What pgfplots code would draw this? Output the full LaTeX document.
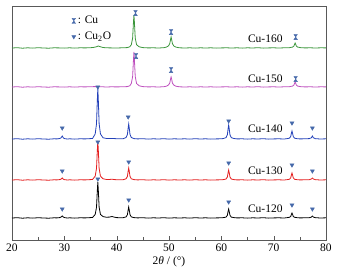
\documentclass[border=0pt]{standalone}
\usepackage{pgfplots}
\pgfplotsset{compat=1.18}
\usepackage{fontspec}
\setmainfont{Liberation Serif}
\definecolor{cgreen}{RGB}{60,150,60}
\definecolor{cmag}{RGB}{190,80,190}
\definecolor{cblue}{RGB}{35,65,185}
\definecolor{cred}{RGB}{228,30,30}
\definecolor{cmark}{RGB}{70,105,170}
\pgfdeclareplotmark{hourglass}{%
  \pgfpathmoveto{\pgfqpoint{-0.7\pgfplotmarksize}{\pgfplotmarksize}}%
  \pgfpathlineto{\pgfqpoint{0.7\pgfplotmarksize}{\pgfplotmarksize}}%
  \pgfpathlineto{\pgfqpoint{-0.7\pgfplotmarksize}{-\pgfplotmarksize}}%
  \pgfpathlineto{\pgfqpoint{0.7\pgfplotmarksize}{-\pgfplotmarksize}}%
  \pgfpathclose
  \pgfusepathqfillstroke
}
\begin{document}
\fontsize{11.5}{13.5}\selectfont
\begin{tikzpicture}
\begin{axis}[
  scale only axis, width=314pt, height=234pt,
  xmin=20, xmax=80, ymin=0, ymax=234,
  xtick={20,30,...,80}, minor x tick num=1,
  ytick=\empty,
  tick pos=bottom, tick align=inside,
  major tick length=4pt, minor tick length=3pt,
  axis line style={black!65}, tick style={black!65},
  /pgf/number format/assume math mode=true,
  xlabel={2\textit{θ} / (°)},
  xlabel style={yshift=3pt},
  legend style={draw=none, fill=none, at={(axis cs:31.2,227)}, anchor=north west,
    legend cell align=left, row sep=2.5pt, inner sep=1pt},
  legend image code/.code={\draw[#1] plot coordinates {(0.1cm,0cm)};},
]
\addlegendimage{only marks, mark=hourglass, mark size=2.6pt, draw=cmark, fill=cmark, line width=0.3pt}
\addlegendentry{: Cu}
\addlegendimage{only marks, mark=triangle*, mark size=2.3pt, mark options={rotate=180, draw=cmark, fill=cmark}}
\addlegendentry{: Cu\textsubscript{2}O}

% Cu-120 (black)
\addplot[black, line width=0.8pt, forget plot] coordinates {
(20,22.0)(21,22.3)(22,21.8)(23,22.2)(24,21.9)(25,22.3)(26,22.0)(27,21.8)(28,22.2)(28.6,22.1)
(29.1,22.4)(29.35,22.9)(29.5,23.6)(29.6,24.0)(29.7,23.5)(29.85,22.8)(30.1,22.3)(30.6,22.0)
(31,22.2)(32,21.9)(33,22.2)(34,22.1)(35,22.4)(35.4,22.6)(35.9,25.6)(36.15,32.8)(36.3,49)(36.4,58)
(36.5,49)(36.65,32.8)(36.9,25.6)(37.4,23.4)(38,22.8)(38.6,22.9)(39.1,23.5)(39.6,22.8)(40,22.4)
(41,22.2)(41.3,22.4)(41.8,23.1)(42.05,25.3)(42.2,30.2)(42.3,33)(42.4,30.2)(42.55,25.3)(42.8,23.1)
(43.3,22.4)(44,22.1)(45,22.3)(46,21.9)(47,22.2)(48,22.0)(49,22.3)(50,21.9)(51,22.2)(52,22.0)
(53,22.2)(54,21.9)(55,22.3)(56,22.0)(57,22.2)(58,21.9)(59,22.1)(60,22.2)(60.4,22.4)(60.9,22.9)
(61.15,24.7)(61.3,28.8)(61.4,31)(61.5,28.8)(61.65,24.7)(61.9,22.9)(62.4,22.4)(63,22.1)(64,22.2)
(65,21.9)(66,22.2)(67,22.0)(68,22.3)(69,21.9)(70,22.1)(71,22.2)(72,22.0)(72.5,22.3)(73.0,22.7)
(73.25,23.5)(73.4,25.8)(73.5,27)(73.6,25.8)(73.75,23.5)(74.0,22.7)(74.5,22.3)(75,22.1)(76,22.2)
(76.8,22.3)(77.2,22.9)(77.4,24)(77.6,22.9)(78,22.3)(79,22.0)(80,22.2)
};
% Cu-130 (red)
\addplot[cred, line width=0.8pt, forget plot] coordinates {
(20,60.0)(21,60.3)(22,59.8)(23,60.2)(24,59.9)(25,60.3)(26,60.0)(27,59.8)(28,60.2)(28.6,60.1)
(29.1,60.4)(29.35,60.8)(29.5,61.5)(29.6,62.0)(29.7,61.4)(29.85,60.7)(30.1,60.3)(30.6,60.0)
(31,60.2)(32,59.9)(33,60.2)(34,60.1)(35,60.4)(35.4,60.6)(35.9,63.9)(36.15,71.7)(36.3,89.2)(36.4,99)
(36.5,89.2)(36.65,71.7)(36.9,63.9)(37.4,61.2)(38,60.6)(38.6,60.5)(39.1,60.8)(39.6,60.4)(40,60.3)
(41,60.2)(41.3,60.4)(41.8,61.2)(42.05,63.6)(42.2,69)(42.3,72)(42.4,69)(42.55,63.6)(42.8,61.2)
(43.3,60.4)(44,60.1)(45,60.3)(46,59.9)(47,60.2)(48,60.0)(49,60.3)(50,59.9)(51,60.2)(52,60.0)
(53,60.2)(54,59.9)(55,60.3)(56,60.0)(57,60.2)(58,59.9)(59,60.1)(60,60.2)(60.4,60.4)(60.9,61.0)
(61.15,63)(61.3,67.5)(61.4,70)(61.5,67.5)(61.65,63)(61.9,61.0)(62.4,60.4)(63,60.1)(64,60.2)
(65,59.9)(66,60.2)(67,60.0)(68,60.3)(69,59.9)(70,60.1)(71,60.2)(72,60.0)(72.5,60.3)(73.0,60.7)
(73.25,62.1)(73.4,65.2)(73.5,67)(73.6,65.2)(73.75,62.1)(74.0,60.7)(74.5,60.3)(75,60.1)(76,60.2)
(76.8,60.3)(77.2,61.0)(77.4,62)(77.6,61.0)(78,60.3)(79,60.0)(80,60.2)
};
% Cu-140 (blue)
\addplot[cblue, line width=0.8pt, forget plot] coordinates {
(20,101.0)(21,101.3)(22,100.8)(23,101.2)(24,100.9)(25,101.3)(26,101.0)(27,100.8)(28,101.2)(28.6,101.1)
(29.1,101.5)(29.35,102.0)(29.5,103.2)(29.6,104.0)(29.7,103.1)(29.85,101.9)(30.1,101.3)(30.6,101.0)
(31,101.2)(32,100.9)(33,101.2)(34,101.1)(35,101.4)(35.4,101.6)(35.9,106.1)(36.15,116.3)(36.3,139.2)(36.4,152)
(36.5,139.2)(36.65,116.3)(36.9,106.1)(37.4,102.2)(38,101.6)(38.6,101.5)(39.1,101.6)(39.6,101.4)(40,101.3)
(41,101.2)(41.3,101.4)(41.8,102.5)(42.05,105.5)(42.2,112.2)(42.3,116)(42.4,112.2)(42.55,105.5)(42.8,102.5)
(43.3,101.4)(44,101.1)(45,101.3)(46,100.9)(47,101.2)(48,101.0)(49,101.3)(50,100.9)(51,101.2)(52,101.0)
(53,101.2)(54,100.9)(55,101.3)(56,101.0)(57,101.2)(58,100.9)(59,101.1)(60,101.2)(60.4,101.5)(60.9,102.4)
(61.15,105.2)(61.3,111.5)(61.4,115)(61.5,111.5)(61.65,105.2)(61.9,102.4)(62.4,101.5)(63,101.1)(64,101.2)
(65,100.9)(66,101.2)(67,101.0)(68,101.3)(69,100.9)(70,101.1)(71,101.2)(72,101.0)(72.5,101.3)(73.0,101.8)
(73.25,103.4)(73.4,107)(73.5,109)(73.6,107)(73.75,103.4)(74.0,101.8)(74.5,101.3)(75,101.1)(76,101.2)
(76.8,101.4)(77.2,102.2)(77.4,104)(77.6,102.2)(78,101.3)(79,101.0)(80,101.2)
};
% Cu-150 (magenta)
\addplot[cmag, line width=0.8pt, forget plot] coordinates {
(20,153.0)(21,153.3)(22,152.8)(23,153.2)(24,152.9)(25,153.3)(26,153.0)(27,152.8)(28,153.2)(29,153.1)
(30,152.9)(31,153.2)(32,152.9)(33,153.2)(34,153.1)(35,153.3)(36,153.4)(37,153.3)(38,153.0)(39,153.2)
(40,153.1)(41,153.2)(42,153.4)(42.5,154.2)(42.8,156.5)(43.05,163.5)(43.2,179.2)(43.3,188)(43.4,179.2)
(43.55,163.5)(43.8,156.5)(44.3,154.2)(45,153.4)(46,153.1)(47,153.2)(48,153.0)(49,153.3)(49.5,153.8)
(49.9,155.0)(50.15,157.0)(50.3,161)(50.4,163)(50.5,161)(50.65,157.0)(50.9,155.0)(51.3,153.8)(52,153.2)
(53,153.0)(54,153.2)(55,152.9)(56,153.2)(57,153.0)(58,153.2)(59,152.9)(60,153.1)(61,153.2)(62,153.0)
(63,153.2)(64,152.9)(65,153.2)(66,153.0)(67,153.3)(68,152.9)(69,153.1)(70,153.2)(71,153.0)(72,153.2)
(73,153.3)(73.6,153.9)(73.85,154.8)(74.0,156.8)(74.1,158)(74.2,156.8)(74.35,154.8)(74.6,153.9)(75.2,153.3)
(76,153.1)(77,153.2)(78,153.0)(79,153.2)(80,153.1)
};
% Cu-160 (green)
\addplot[cgreen, line width=0.8pt, forget plot] coordinates {
(20,192.0)(21,192.3)(22,191.8)(23,192.2)(24,191.9)(25,192.3)(26,192.0)(27,191.8)(28,192.2)(29,192.1)
(30,191.9)(31,192.2)(32,191.9)(33,192.2)(34,192.1)(35,192.3)(35.6,192.6)(36.1,193.2)(36.5,194.0)(36.9,193.2)
(37.4,192.5)(38,192.2)(39,192.1)(40,192.0)(41,192.2)(42,192.4)(42.5,193.2)(42.8,195.3)(43.05,201.9)(43.2,216.8)
(43.3,225)(43.4,216.8)(43.55,201.9)(43.8,195.3)(44.3,193.2)(45,192.4)(46,192.1)(47,192.2)(48,192.0)(49,192.3)
(49.5,192.9)(49.9,194.1)(50.15,196.5)(50.3,200.6)(50.4,203)(50.5,200.6)(50.65,196.5)(50.9,194.1)(51.3,192.9)
(52,192.2)(53,192.0)(54,192.2)(55,191.9)(56,192.2)(57,192.0)(58,192.2)(59,191.9)(60,192.1)(61,192.2)(62,192.0)
(63,192.2)(64,191.9)(65,192.2)(66,192.0)(67,192.3)(68,191.9)(69,192.1)(70,192.2)(71,192.0)(72,192.2)
(73,192.3)(73.6,192.9)(73.85,193.8)(74.0,195.8)(74.1,197)(74.2,195.8)(74.35,193.8)(74.6,192.9)(75.2,192.3)
(76,192.1)(77,192.2)(78,192.0)(79,192.2)(80,192.1)
};
% Cu markers
\addplot[only marks, mark=hourglass, mark size=2.6pt, draw=cmark, fill=cmark, line width=0.3pt, forget plot] coordinates {
(43.6,227)(50.4,208)(74.2,203)(43.7,184)(50.4,170)(74.2,161)
};
% Cu2O markers
\addplot[only marks, mark=triangle*, mark size=2.3pt, mark options={rotate=180, draw=cmark, fill=cmark}, forget plot] coordinates {
(29.6,112)(36.4,153)(42.2,123)(61.4,119)(73.5,117)(77.4,112)
(29.6,69)(36.4,98)(42.3,78)(61.4,77)(73.5,75)(77.4,69)
(29.6,31)(36.4,61)(42.3,40)(61.4,38)(73.5,35)(77.4,31)
};
\node at (axis cs:68.4,201) {Cu-160};
\node at (axis cs:68.4,161) {Cu-150};
\node at (axis cs:68.4,111) {Cu-140};
\node at (axis cs:68.4,69) {Cu-130};
\node at (axis cs:68.4,31) {Cu-120};
\end{axis}
\path (current axis.south west) ++(-12pt,-34pt) rectangle ++(346pt,274pt);
\end{tikzpicture}
\end{document}
